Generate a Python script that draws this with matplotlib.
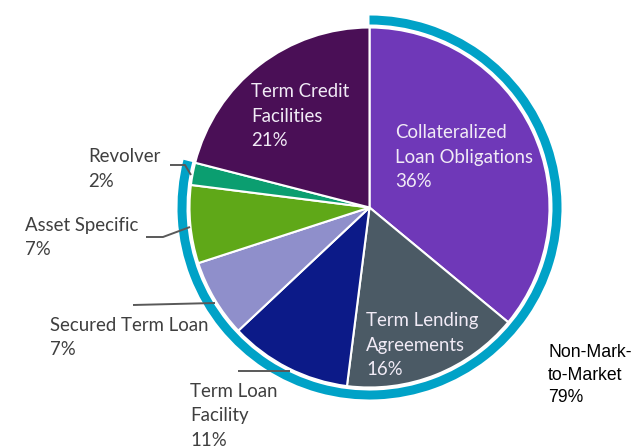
import matplotlib
matplotlib.use("Agg")
import matplotlib.pyplot as plt
from matplotlib.patches import Wedge

# ---- data ----
categories = ["Collateralized\nLoan Obligations", "Term Lending\nAgreements", "Term Loan\nFacility",
              "Secured Term Loan", "Asset Specific", "Revolver", "Term Credit\nFacilities"]
values = [36, 16, 11, 7, 7, 2, 21]
non_mtm_flags = [True, True, True, True, True, True, False]
non_mtm_label = "Non-Mark-\nto-Market"
colors = ["#6f38b8", "#4b5a65", "#0c1a88", "#8f8fcb", "#5fa818", "#0b9e70", "#4a0f56"]

W, H = 631, 448
fig = plt.figure(figsize=(W / 100, H / 100), dpi=100)
ax = fig.add_axes([0, 0, 1, 1])

def Y(py):
    return H - py

cx, cy, r = 369.5, Y(207.5), 180

ax.pie(values, colors=colors, startangle=90, counterclock=False,
       center=(cx, cy), radius=r, frame=True,
       wedgeprops=dict(edgecolor="white", linewidth=1.5))
ax.set_xlim(0, W)
ax.set_ylim(0, H)
ax.set_aspect("equal")
ax.axis("off")

# outer ring for non-mark-to-market share
nm_total = sum(v for v, f in zip(values, non_mtm_flags) if f)
theta_end = 90 - 360 * nm_total / sum(values)
ring = Wedge((cx, cy), 192, theta_end, 450, width=9, facecolor="#00a2c7", edgecolor="none")
ax.add_patch(ring)

inner_font = dict(family=["Lato", "DejaVu Sans"], fontsize=13.4, color="#f1ebf6",
                  linespacing=1.52, va="center", ha="left")
outer_font = dict(family=["Lato", "DejaVu Sans"], fontsize=13.4, color="#3f3f3f",
                  linespacing=1.52, va="center", ha="left")

def lab(i):
    return f"{categories[i]}\n{values[i]}%"

# inside labels
ax.text(395, Y(157), lab(0), **inner_font)
ax.text(366, Y(345), lab(1), **inner_font)
ax.text(251, Y(116), lab(6), **inner_font)

# outside labels
ax.text(190, Y(416), lab(2), **outer_font)
ax.text(50, Y(337.5), lab(3), **outer_font)
ax.text(25, Y(237.5), lab(4), **outer_font)
ax.text(88, Y(169), lab(5), **outer_font)

# leader lines
lc = dict(color="#595959", linewidth=1.4, solid_capstyle="butt")
ax.plot([238, 290], [Y(371), Y(371)], **lc)
ax.plot([133, 215], [Y(305), Y(303)], **lc)
ax.plot([146, 163, 190], [Y(237), Y(237), Y(227)], **lc)
ax.plot([170, 185, 191], [Y(165), Y(165), Y(175)], **lc)

ax.text(548, Y(375), f"{non_mtm_label}\n{nm_total}%", family=["Liberation Sans", "DejaVu Sans"],
        fontsize=12.7, color="black", linespacing=1.44, va="center", ha="left")

fig.savefig("out.png", dpi=100)
